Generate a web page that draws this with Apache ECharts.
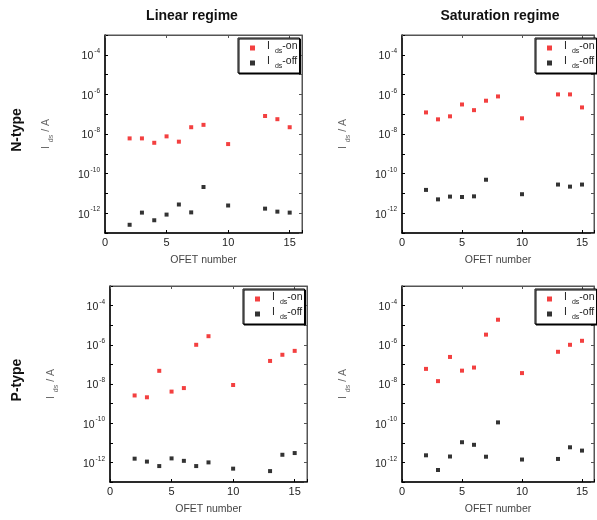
<!DOCTYPE html>
<html>
<head>
<meta charset="utf-8">
<script src="https://cdn.jsdelivr.net/npm/echarts@6/dist/echarts.min.js"></script>
<style>
  html, body { margin: 0; padding: 0; background: #fff; }
  #chart { width: 597px; height: 520px; }
</style>
</head>
<body>
<div id="chart"></div>
<script>
// OFET device numbers (x positions)
const ofet = [2, 3, 4, 5, 6, 7, 8, 10, 13, 14, 15];

// Drain-source current in A — N-type, linear regime
const nLinOn  = [6.0e-9, 6.0e-9, 3.6e-9, 7.6e-9, 4.1e-9, 2.2e-8, 2.9e-8, 3.1e-9, 8.1e-8, 5.6e-8, 2.2e-8];
const nLinOff = [2.6e-13, 1.07e-12, 4.4e-13, 8.5e-13, 2.75e-12, 1.1e-12, 2.1e-11, 2.45e-12, 1.7e-12, 1.2e-12, 1.07e-12];

// N-type, saturation regime (device 8 has no off-current value)
const nSatOn  = [1.23e-7, 5.5e-8, 7.8e-8, 3.1e-7, 1.6e-7, 4.8e-7, 7.9e-7, 6.2e-8, 1.0e-6, 1.0e-6, 2.2e-7];
const nSatOff = [1.5e-11, 5.0e-12, 6.9e-12, 6.6e-12, 7.1e-12, 4.9e-11, null, 9.1e-12, 2.8e-11, 2.2e-11, 2.8e-11];

// P-type, linear regime
const pLinOn  = [2.6e-9, 2.1e-9, 4.7e-8, 4.1e-9, 6.2e-9, 1.0e-6, 2.75e-6, 8.9e-9, 1.5e-7, 3.1e-7, 4.9e-7];
const pLinOff = [1.55e-12, 1.1e-12, 6.5e-13, 1.6e-12, 1.2e-12, 6.5e-13, 1.0e-12, 4.8e-13, 3.6e-13, 2.45e-12, 3.0e-12];

// P-type, saturation regime
const pSatOn  = [5.9e-8, 1.4e-8, 2.4e-7, 4.8e-8, 6.9e-8, 3.3e-6, 1.9e-5, 3.6e-8, 4.4e-7, 1.0e-6, 1.6e-6];
const pSatOff = [2.3e-12, 4.1e-13, 2.0e-12, 1.07e-11, 7.9e-12, 1.95e-12, 1.1e-10, 1.4e-12, 1.5e-12, 5.9e-12, 4.0e-12];

const xTicks = [0, 5, 10, 15];
const colTitles = ['Linear regime', 'Saturation regime'];
const rowTitles = ['N-type', 'P-type'];

const FONT = "'Liberation Sans', Arial, Helvetica, sans-serif";

const panels = [
  { on: nLinOn, off: nLinOff, grid: { left: 105, top: 35, width: 197, height: 198 }, legend: { left: 238, top: 38 } },
  { on: nSatOn, off: nSatOff, grid: { left: 402, top: 35, width: 197, height: 198 }, legend: { left: 535, top: 38 } },
  { on: pLinOn, off: pLinOff, grid: { left: 110, top: 286, width: 197, height: 196 }, legend: { left: 243, top: 289 } },
  { on: pSatOn, off: pSatOff, grid: { left: 402, top: 286, width: 197, height: 196 }, legend: { left: 535, top: 289 } }
];

function pairs(xs, ys) {
  const out = [];
  xs.forEach((x, i) => { if (ys[i] != null) out.push([x, ys[i]]); });
  return out;
}

const supRich = {
  b: { fontSize: 10.5, color: '#222', fontFamily: FONT, lineHeight: 14, verticalAlign: 'bottom' },
  s: { fontSize: 6.5, color: '#222', fontFamily: FONT, lineHeight: 14, verticalAlign: 'top', padding: [0, 0, 0, 1] }
};
const nameRich = {
  i: { fontSize: 10.5, color: '#666', fontFamily: FONT, lineHeight: 14, verticalAlign: 'top' },
  d: { fontSize: 7, color: '#666', fontFamily: FONT, lineHeight: 14, verticalAlign: 'bottom', padding: [0, 3, 0, 4] }
};
const legendRich = {
  i: { fontSize: 10.5, color: '#222', fontFamily: FONT, lineHeight: 14, verticalAlign: 'top' },
  f: { fontSize: 10.5, color: '#222', fontFamily: FONT, lineHeight: 14, verticalAlign: 'top', padding: [0, 0, 0, 7] },
  d: { fontSize: 7, color: '#222', fontFamily: FONT, lineHeight: 14, verticalAlign: 'bottom', padding: [0, 0, 0, 5] }
};

const grid = [], xAxis = [], yAxis = [], series = [], legend = [];

panels.forEach((p, k) => {
  grid.push(Object.assign({ show: true, borderColor: '#555', borderWidth: 1, backgroundColor: '#fff' }, p.grid));

  xAxis.push({
    type: 'value', gridIndex: k, min: 0, max: 16, interval: 5,
    name: 'OFET number', nameLocation: 'middle', nameGap: 22,
    nameTextStyle: { fontSize: 10.5, color: '#444', fontFamily: FONT },
    axisLine: { show: true, onZero: false, lineStyle: { color: '#000', width: 1.5 } },
    axisTick: { show: true, inside: true, length: 3, lineStyle: { color: '#000' } },
    axisLabel: { fontSize: 11, color: '#222', fontFamily: FONT, margin: 4,
      formatter: v => (xTicks.includes(v) ? String(v) : '') },
    splitLine: { show: false }
  });
  xAxis.push({
    type: 'value', gridIndex: k, min: 0, max: 16, interval: 5, position: 'top',
    axisLine: { show: true, onZero: false, lineStyle: { color: '#555', width: 1 } },
    axisTick: { show: true, inside: true, length: 3, lineStyle: { color: '#555' } },
    axisLabel: { show: false }, splitLine: { show: false }
  });

  yAxis.push({
    type: 'log', logBase: 10, gridIndex: k, min: 1e-13, max: 1e-3,
    name: '{i|I}{d|ds}{i|/ A}', nameLocation: 'middle', nameGap: 50, nameRotate: 90,
    nameTextStyle: { rich: nameRich },
    axisLine: { show: true, onZero: false, lineStyle: { color: '#000', width: 1.5 } },
    axisTick: { show: true, inside: true, length: 3, lineStyle: { color: '#000' } },
    axisLabel: {
      margin: 5,
      formatter: v => {
        const e = Math.round(Math.log10(v));
        return e % 2 === 0 ? '{b|10}{s|' + e + '}' : '';
      },
      rich: supRich
    },
    splitLine: { show: false }
  });
  yAxis.push({
    type: 'log', logBase: 10, gridIndex: k, min: 1e-13, max: 1e-3, position: 'right',
    axisLine: { show: true, onZero: false, lineStyle: { color: '#555', width: 1 } },
    axisTick: { show: true, inside: true, length: 3, lineStyle: { color: '#555' } },
    axisLabel: { show: false }, splitLine: { show: false }
  });

  series.push({
    name: 'on', type: 'scatter', xAxisIndex: 2 * k, yAxisIndex: 2 * k,
    symbol: 'rect', symbolSize: 4, itemStyle: { color: '#f01010' },
    data: pairs(ofet, p.on)
  });
  series.push({
    name: 'off', type: 'scatter', xAxisIndex: 2 * k, yAxisIndex: 2 * k,
    symbol: 'rect', symbolSize: 4, itemStyle: { color: '#000' },
    data: pairs(ofet, p.off)
  });

  legend.push({
    left: p.legend.left, top: p.legend.top, orient: 'vertical',
    data: ['on', 'off'], icon: 'rect', itemWidth: 5, itemHeight: 5, itemGap: 1,
    padding: [3, 2, 3, 12], backgroundColor: '#fff',
    borderColor: '#000', borderWidth: 1,
    shadowColor: '#000', shadowBlur: 0, shadowOffsetX: 1, shadowOffsetY: 1,
    selectedMode: false,
    formatter: n => '{f|I}{d|ds}{i|-' + n + '}',
    textStyle: { rich: legendRich }
  });
});

const graphic = [
  { type: 'text', x: 192, y: 16,
    style: { text: colTitles[0], font: 'bold 14px ' + FONT, fill: '#111', align: 'center', verticalAlign: 'middle' } },
  { type: 'text', x: 500, y: 16,
    style: { text: colTitles[1], font: 'bold 14px ' + FONT, fill: '#111', align: 'center', verticalAlign: 'middle' } },
  { type: 'text', x: 17, y: 130, rotation: Math.PI / 2,
    style: { text: rowTitles[0], font: 'bold 14px ' + FONT, fill: '#111', align: 'center', verticalAlign: 'middle' } },
  { type: 'text', x: 17, y: 380, rotation: Math.PI / 2,
    style: { text: rowTitles[1], font: 'bold 14px ' + FONT, fill: '#111', align: 'center', verticalAlign: 'middle' } }
];

const chart = echarts.init(document.getElementById('chart'), null, { renderer: 'canvas' });
chart.setOption({
  backgroundColor: '#fff',
  animation: false,
  grid, xAxis, yAxis, series, legend, graphic
});
</script>
</body>
</html>
